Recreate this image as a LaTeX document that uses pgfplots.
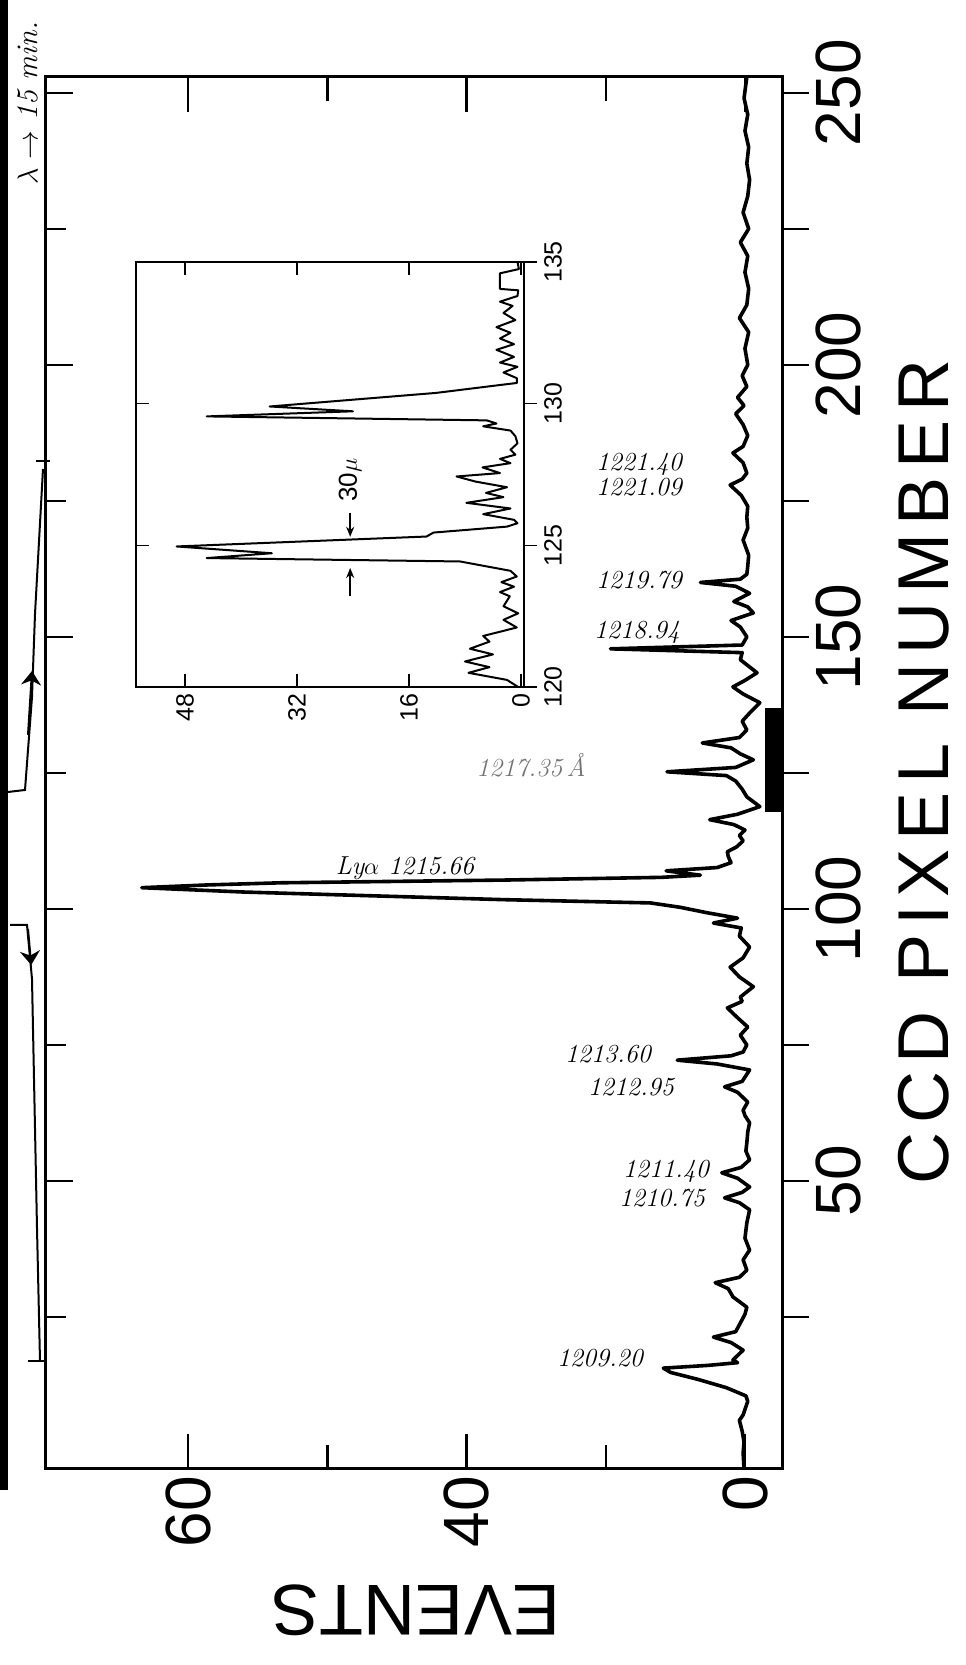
\documentclass[border=0pt]{standalone}
\usepackage{fontspec}
\usepackage{pgfplots}
\pgfplotsset{compat=1.18}
\usetikzlibrary{arrows.meta}
\newfontfamily\lettering{Liberation Sans}
\newfontfamily\letteringwide{Liberation Sans}[LetterSpace=12]
\newcommand\hand{\itshape\fontsize{13}{13}\selectfont}

% geometry of the two boxes, in a 965x1665 px frame at 0.5pt per px
\pgfplotsset{
  mainbox/.style={at={(23pt,98pt)}, anchor=south west, scale only axis,
    width=368pt, height=696pt, x dir=reverse,
    xmin=-3.99, xmax=75.32, ymin=-2.94, ymax=252.9,
    axis line style={line width=1.5pt}, tick style={line width=1.2pt, black},
    /pgf/number format/assume math mode=true},
  insetbox/.style={at={(68pt,489pt)}, anchor=south west, scale only axis,
    width=194pt, height=212.5pt, x dir=reverse,
    xmin=-0.43, xmax=55.0, ymin=120, ymax=135,
    axis line style={line width=0.9pt}, tick style={line width=0.8pt, black},
    /pgf/number format/assume math mode=true},
  bigticks/.style={font=\lettering\fontsize{32}{32}\selectfont},
  smallticks/.style={font=\lettering\fontsize{12.5}{12.5}\selectfont},
}

\begin{document}
\begin{tikzpicture}
\useasboundingbox (0,0) rectangle (482.5pt,832.5pt);

% main spectrum, right-hand pixel ticks pointing out
\begin{axis}[mainbox,
  xtick=\empty,
  ytick={50,100,...,250}, minor ytick={25,75,...,225},
  ytick pos=right, yticklabel pos=right, tick align=outside,
  major tick length=13.5pt, minor tick length=13.5pt,
  yticklabel style={rotate=90, anchor=north, bigticks},
]
\addplot[black, line width=1.8pt, line join=round] coordinates {
 (0.1,-2.9) (0.2,0) (0.1,2) (0.3,4) (0.6,6) (0.2,7) (0,8) (-0.3,9.5) (-0.1,10.5)
 (2,12) (5,13.5) (8,14.8) (8.8,15.6) (4,16.1) (0.8,16.6) (1.3,17.1) (0.2,18.9)
 (1.5,20.3) (3.4,21.3) (1,22.3) (0.5,23.9) (0,25.5) (-0.2,26.8) (1.3,28.7) (1.8,30.2)
 (3.2,31.3) (0.6,32.3) (-0.2,33.6) (0.2,35.5) (-0.5,37.3) (0,39.5) (-0.2,42.3) (-0.5,44.7)
 (0.6,46) (2.2,46.9) (0.3,47.9) (-0.5,48.9) (0.8,50.5) (2.5,51.5) (0.4,52.5) (-0.5,53.9)
 (-0.1,55.5) (-0.2,57) (-0.3,59) (-0.5,60.7) (0,62) (0.2,63) (-0.3,64.5) (0.8,66.3)
 (2.2,67.3) (0.3,68.3) (-0.5,70.4) (3,71.5) (7.3,72.2) (1.5,73) (0.2,73.7) (-0.2,75)
 (0.5,76.8) (-0.3,78.3) (0.8,80) (1.9,81.8) (0.3,83) (0.5,83.8) (-0.9,85.7) (0.6,87.5)
 (1.6,89.3) (0.2,91) (-0.5,93) (0.6,95) (0.4,96.5) (3.4,97.4) (0.8,98.3) (4.1,99.3)
 (7,100.3) (10.2,101.1) (26,101.7) (40,102.4) (54,103.1) (65,103.9) (58,104.4) (50,104.8)
 (26,105.3) (9,105.8) (4.8,106.2) (8.5,107) (3,107.6) (1.5,108.5) (1.8,109.6) (1.9,110.5)
 (0.9,111.4) (0.2,112.5) (0.6,113.5) (0,114.5) (1.2,115.5) (3.8,116.4) (0.8,117.4) (-1.6,118.8)
 (-0.2,120.6) (0.3,122) (1,123.5) (2,124.5) (8.4,125.2) (1,126) (-0.9,127.4) (0.5,128.5)
 (1.5,129.6) (4.6,130.5) (0.6,131.5) (-0.2,132.9) (0.3,134.5) (-0.5,136) (-1.6,137.9) (0.2,139.5)
 (1.3,140.8) (0,142) (-1.3,143.4) (0.5,145.8) (0.3,147.1) (14.5,147.8) (0.3,148.5) (-0.2,150)
 (0.5,151.8) (1.5,153) (-0.9,154.4) (-0.3,155.5) (1.2,156.5) (-0.5,158) (1,159.3) (4.8,160)
 (0.5,160.6) (-0.2,161.5) (-0.3,163) (-0.4,165) (0.2,167.8) (-0.3,170) (-0.2,172) (-0.3,174)
 (0.4,176) (1.6,177.9) (0.3,179) (-0.2,180.1) (0.2,182) (1.3,183.8) (0.2,185) (-0.3,187)
 (0.2,189) (1,191) (0.1,192.5) (0.8,194) (-0.2,196) (0.3,198) (-0.3,200) (0,203)
 (-0.4,206) (0.6,208.6) (-0.2,211) (-0.4,214) (0,217) (-0.3,220) (0.5,222.5) (-0.4,225)
 (0.2,228) (-0.3,231) (-0.5,234) (-0.2,237) (-0.4,240) (0,243) (-0.3,246) (0.1,249) (-0.2,252.9)};
% marker bar on the baseline
\addplot[fill=black, draw=none] coordinates {(-2.2,117.8) (-3.99,117.8) (-3.99,137) (-2.2,137)} -- cycle;
\end{axis}

% events ticks, inside, top and bottom
\begin{axis}[mainbox,
  xtick={0,30,60}, xticklabels={0,40,60}, minor xtick={15,45},
  xtick pos=both, tick align=inside, ytick=\empty,
  major tick length=17.5pt, minor tick length=12pt,
  xticklabel style={rotate=90, anchor=east, bigticks},
]
\end{axis}

% left pixel ticks, inside
\begin{axis}[mainbox,
  xtick=\empty,
  ytick={50,100,...,250}, minor ytick={25,75,...,225}, yticklabels={},
  ytick pos=left, tick align=inside,
  major tick length=13.5pt, minor tick length=10pt,
]
\end{axis}

% inset
\begin{axis}[insetbox,
  xtick=\empty,
  ytick={120,125,130,135}, ytick pos=right, yticklabel pos=right, tick align=outside,
  major tick length=6.5pt,
  yticklabel style={rotate=90, anchor=north, smallticks},
]
\addplot[black, line width=1pt, line join=round] coordinates {
 (0.4,120) (2,120.25) (7.5,120.5) (4.5,120.7) (8,120.9) (4,121.15) (7.3,121.35) (4.5,121.6)
 (5.4,121.8) (0.6,122.1) (2.5,122.37) (0.4,122.6) (2.5,122.85) (1.6,123.2) (3,123.35) (1,123.54)
 (2.8,123.7) (0.6,123.9) (1.5,124.1) (8.7,124.43) (44.9,124.55) (35.6,124.72) (49.2,124.96)
 (13.5,125.31) (12.5,125.45) (2,125.66) (0.5,125.78) (1,125.9) (5.4,126.1) (1.5,126.3)
 (7.8,126.5) (2.5,126.7) (5,126.85) (2,127.05) (6.5,127.25) (9.2,127.43) (3,127.55) (5.5,127.75)
 (1.5,127.9) (3,128.05) (0.8,128.2) (1.5,128.37) (0.5,128.6) (0.8,128.85) (1.5,129.05) (5.4,129.2)
 (3.5,129.3) (4.9,129.41) (44.9,129.55) (24,129.73) (35.9,129.9) (12.1,130.38) (4.9,130.6)
 (0.6,130.73) (0.6,130.9) (2.5,131.1) (0.5,131.3) (3,131.45) (1,131.65) (3.5,131.9) (1,132.1)
 (3,132.3) (1.5,132.5) (3.5,132.7) (0.8,132.95) (2.5,133.2) (1.2,133.45) (3,133.6) (0.5,133.8)
 (0.4,134) (3,134.05) (3,134.6) (0.3,134.75) (0.5,135)};
\draw[line width=0.8pt, -{Stealth[length=5pt,width=4pt]}] (axis cs:24.4,126.15) -- (axis cs:24.4,125.3);
\draw[line width=0.8pt, -{Stealth[length=5pt,width=4pt]}] (axis cs:24.4,123.2) -- (axis cs:24.4,124.2);
\node[rotate=90, font=\lettering\fontsize{13}{13}\selectfont] at (axis cs:24.4,127.3) {30$\mu$};
\end{axis}
\begin{axis}[insetbox,
  xtick={0,16,32,48}, xtick pos=both,
  ytick={125,130}, yticklabels={}, ytick pos=left,
  tick align=inside, major tick length=6.5pt,
  xticklabel style={rotate=90, anchor=east, smallticks},
]
\end{axis}

% axis titles
\node[rotate=90, inner sep=0pt, font=\letteringwide\fontsize{36}{36}\selectfont] at (462pt,446.5pt) {CCD PIXEL NUMBER};
\node[rotate=180, inner sep=0pt, font=\lettering\fontsize{36}{36}\selectfont] at (208pt,27.5pt) {EVENTS};

% hand-written line identifications
\node[font=\hand] at (300pt,153.5pt) {1209.20};
\node[font=\hand] at (331pt,233.5pt) {1210.75};
\node[font=\hand] at (333pt,247pt) {1211.40};
\node[font=\hand] at (315.5pt,289pt) {1212.95};
\node[font=\hand] at (304pt,305.5pt) {1213.60};
\node[font=\hand] at (202.5pt,398.5pt) {Ly$\alpha$ 1215.66};
\node[font=\hand, text=black!55] at (265.5pt,450pt) {1217.35\,Å};
\node[font=\hand] at (318.5pt,516.5pt) {1218.94};
\node[font=\hand] at (319.5pt,542.5pt) {1219.79};
\node[font=\hand] at (319.5pt,589pt) {1221.09};
\node[font=\hand] at (319.5pt,600.5pt) {1221.40};

% margin marks
\fill[black] (0pt,87.5pt) rectangle (4pt,832.5pt);
\node[rotate=90, inner sep=1pt, font=\itshape\fontsize{15}{15}\selectfont] at (14pt,781pt) {$\lambda\rightarrow$ 15 min.};
\draw[line width=1pt] (18pt,602pt) -- (25pt,602pt);
\draw[line width=1pt] (21.5pt,598pt) -- (17.5pt,525.5pt) -- (16pt,484pt) -- (12.5pt,437.5pt) -- (4pt,436.5pt);
\draw[line width=1pt, -{Stealth[length=7pt,width=10pt]}] (14pt,465pt) -- (16pt,497pt);
\draw[line width=1pt] (5pt,370pt) -- (13.5pt,370pt) -- (16pt,343pt) -- (18.5pt,218.5pt) -- (20pt,152pt);
\draw[line width=1pt, -{Stealth[length=7pt,width=10pt]}] (14pt,368pt) -- (15.6pt,350pt);
\draw[line width=1pt] (14pt,152pt) -- (23.5pt,152pt);
\end{tikzpicture}
\end{document}
